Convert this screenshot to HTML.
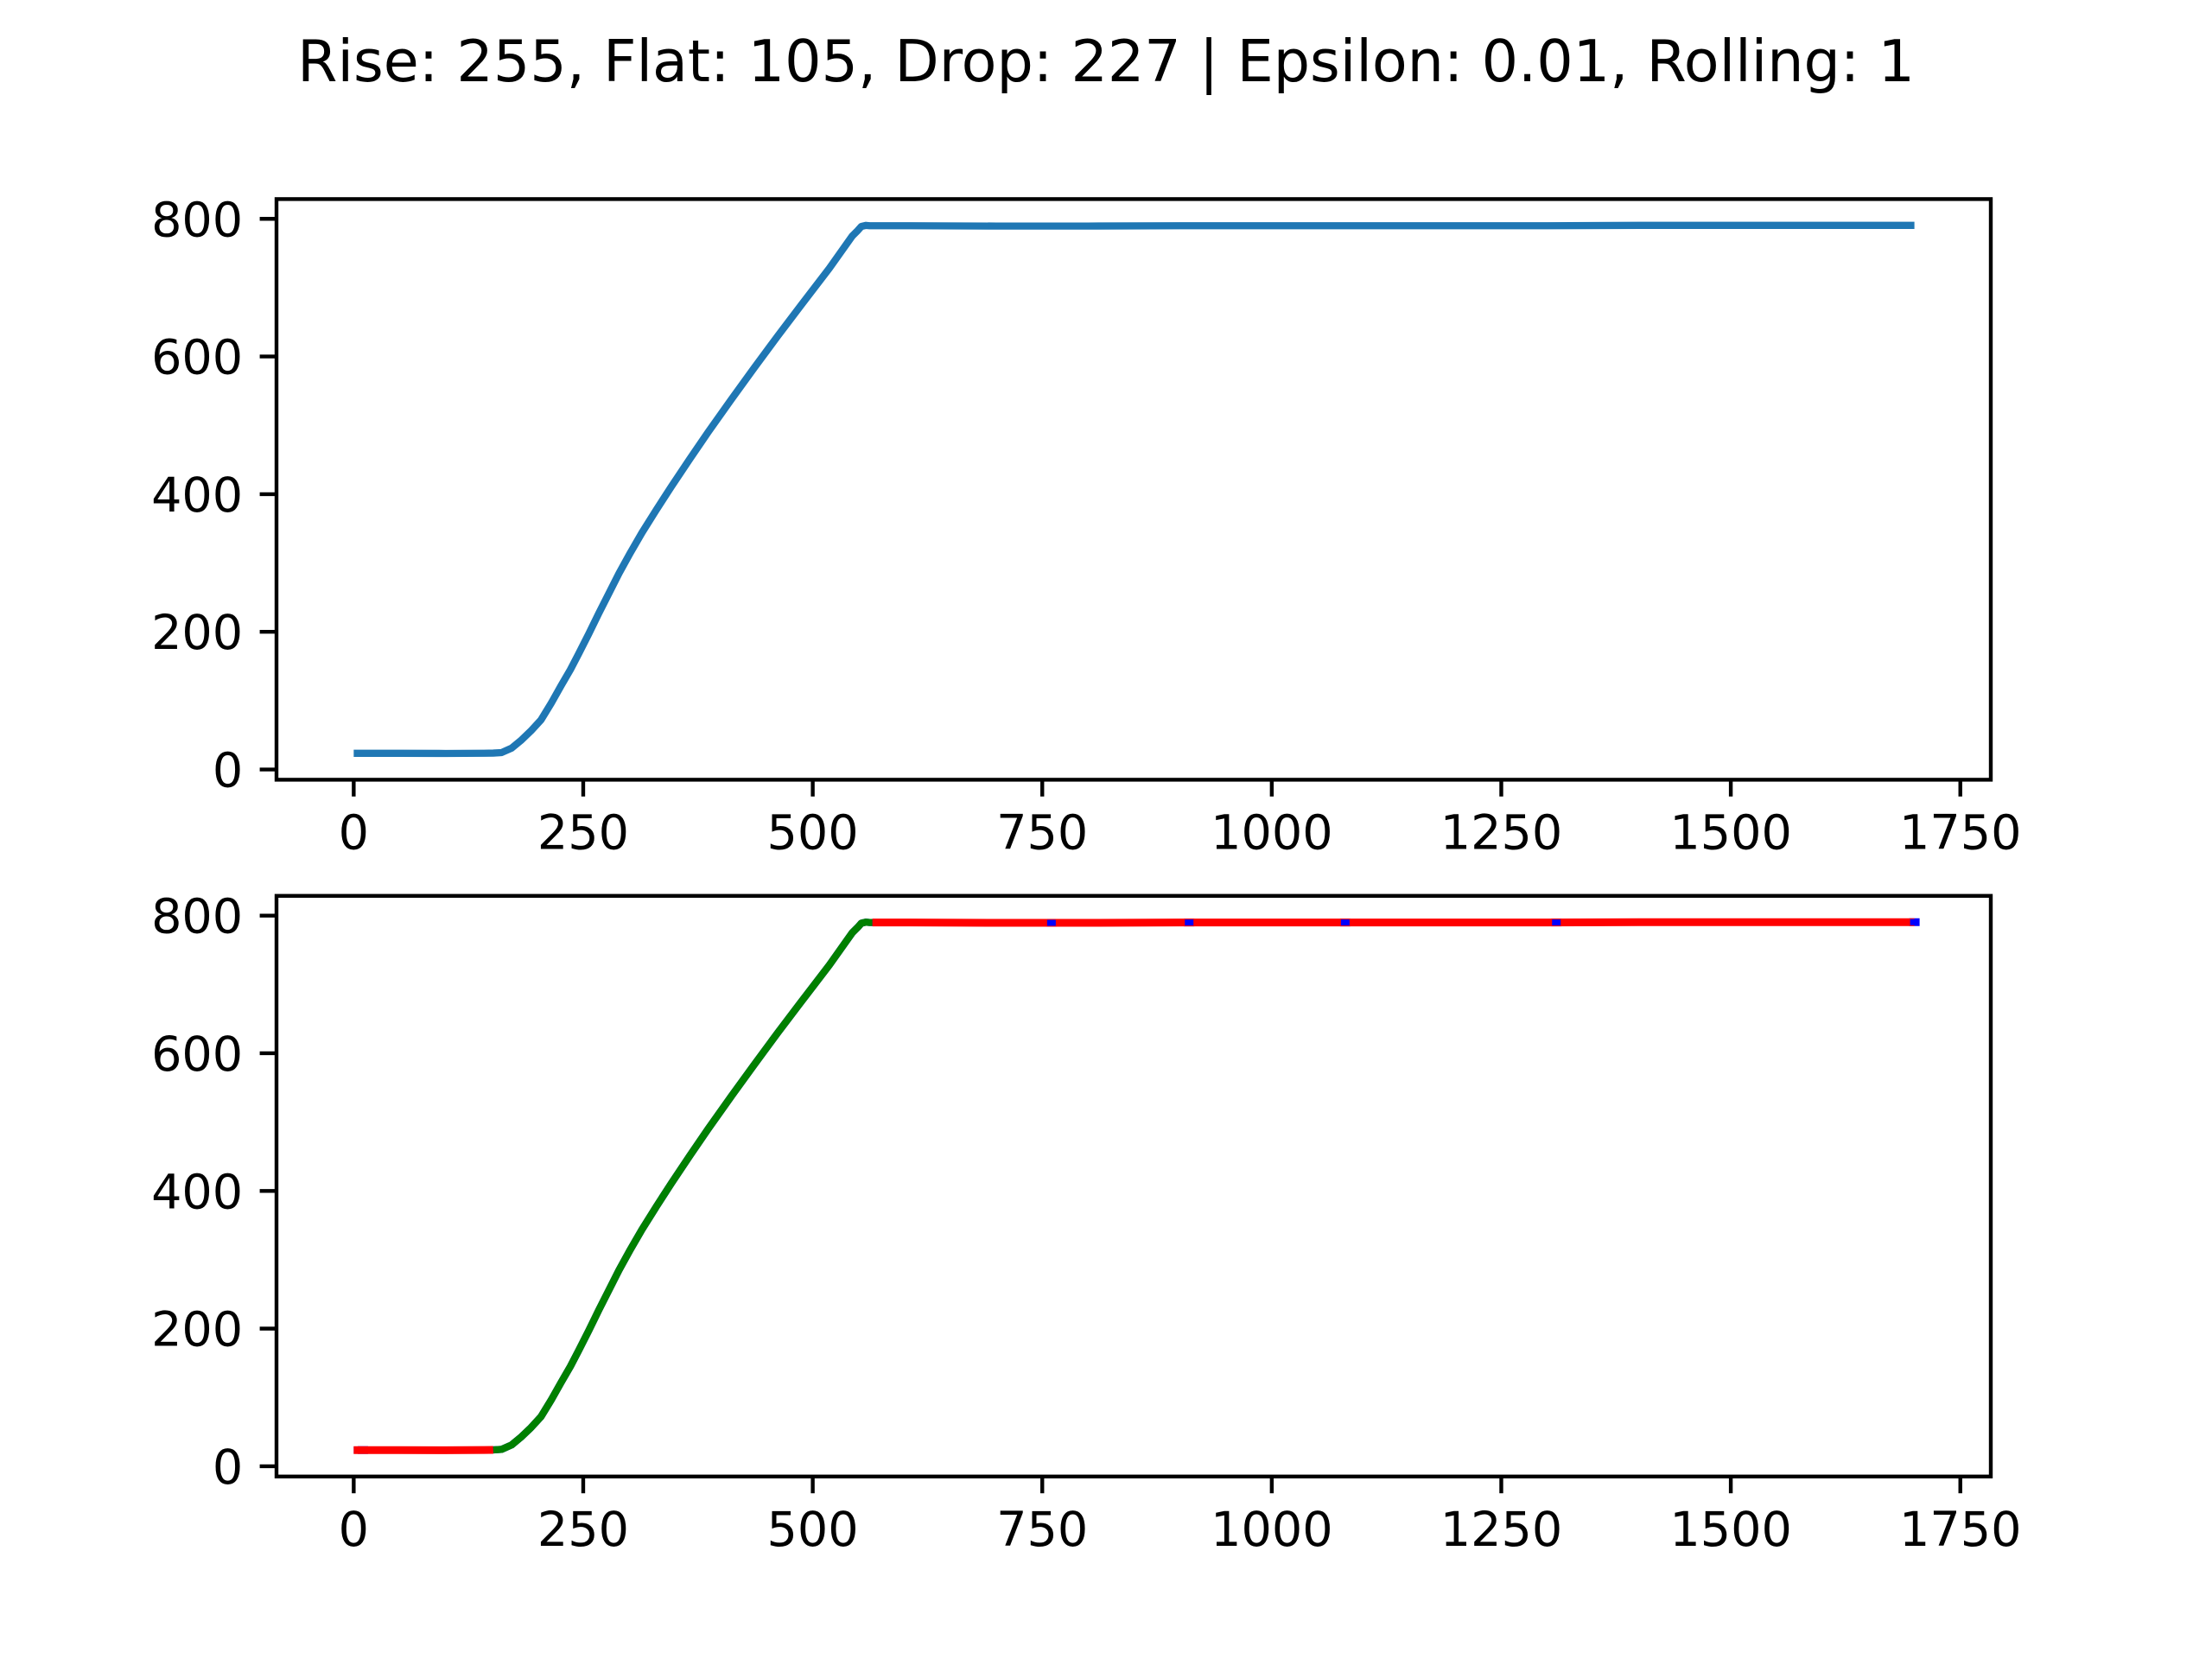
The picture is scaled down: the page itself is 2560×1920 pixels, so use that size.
<!DOCTYPE html>
<html><head><meta charset="utf-8"><style>
html,body{margin:0;padding:0;background:#fff;}
svg{display:block;}
text{font-family:"DejaVu Sans","Liberation Sans",sans-serif;fill:#000;}
</style></head><body>
<svg id="fig" width="2560" height="1920" viewBox="0 0 2560 1920" xmlns="http://www.w3.org/2000/svg">
<rect width="2560" height="1920" fill="#fff"/>
<text x="1280" y="94" font-size="66.7" text-anchor="middle">Rise: 255, Flat: 105, Drop: 227 | Epsilon: 0.01, Rolling: 1</text>
<g id="top"></g>
<g id="bot"></g>
</svg>
<script>
// data
const xs = [0, 50, 100, 142, 152, 161, 172, 182, 193, 204, 215, 226, 236, 245, 256, 267, 278, 289, 301, 314, 330, 346, 366, 386, 411, 436, 462, 487, 518, 543, 549, 553, 558, 562, 606, 700, 800, 900, 1000, 1100, 1200, 1300, 1400, 1500, 1600, 1700];
const ys = [23.5, 23.5, 23.3, 23.6, 23.8, 24.5, 31, 42, 56, 72, 96, 122, 145, 168, 197, 227, 256, 285, 314, 344, 378, 411, 451, 490, 537, 583, 630, 674, 728, 775, 783, 789, 790.5, 790, 790, 789.5, 789.5, 790, 790, 790, 790, 790, 790.5, 790.5, 790.5, 790.5];
const segStartX = [0, 152, 565];
const segEndX = [152, 565, 1700];
const segColors = ['#ff0000', '#008000', '#ff0000'];
const blueMarksX = [10, 760, 910, 1080, 1310, 1700];
const xTicks = [0, 250, 500, 750, 1000, 1250, 1500, 1750];
const yTicks = [0, 200, 400, 600, 800];

const NS = 'http://www.w3.org/2000/svg';
const L = 320, R = 2304, W = R - L, H = 672;
const XMIN = -84.1, XMAX = 1783.2, YMIN = -14.9, YMAX = 828.7;
function sx(v){ return L + (v - XMIN) / (XMAX - XMIN) * W; }
function mk(tag, attrs, parent){ const e = document.createElementNS(NS, tag); for (const k in attrs) e.setAttribute(k, attrs[k]); parent.appendChild(e); return e; }
function interp(x){ for (let i=1;i<xs.length;i++){ if (x<=xs[i]){ const t=(x-xs[i-1])/(xs[i]-xs[i-1]); return ys[i-1]+t*(ys[i]-ys[i-1]); } } return ys[ys.length-1]; }

function drawAxes(g, top){
  const bottom = top + H;
  const sy = v => bottom - (v - YMIN) / (YMAX - YMIN) * H;
  for (const t of xTicks){
    const X = sx(t);
    const tk = mk('line', {x1:X, x2:X, y1:bottom, y2:bottom+19.4, stroke:'#000', 'stroke-width':4.4}, g);
    
    
    const tx = mk('text', {x:X, y:bottom+80, 'font-size':55.6, 'text-anchor':'middle'}, g);
    tx.textContent = t;
    
    
  }
  for (const t of yTicks){
    const Y = sy(t);
    const tk = mk('line', {x1:L-19.4, x2:L, y1:Y, y2:Y, stroke:'#000', 'stroke-width':4.4}, g);
    
    
    const tx = mk('text', {x:L-38.8, y:Y+20, 'font-size':55.6, 'text-anchor':'end'}, g);
    tx.textContent = t;
    
    
  }
  return sy;
}
function spines(g, top){
  const r = mk('rect', {x:L, y:top, width:W, height:H, fill:'none', stroke:'#000', 'stroke-width':4.4}, g);
  
  
}

// top panel
const gt = document.getElementById('top');
const topY = 230.4;
const syT = drawAxes(gt, topY);
const p1 = mk('polyline', {points: xs.map((x,i)=>sx(x)+','+syT(ys[i])).join(' '), fill:'none', stroke:'#1f77b4', 'stroke-width':8.3, 'stroke-linejoin':'round'}, gt);


spines(gt, topY);

// bottom panel
const gb = document.getElementById('bot');
const botY = 1036.8;
const syB = drawAxes(gb, botY);
const under = mk('polyline', {points: xs.map((x,i)=>sx(x)+','+syB(ys[i])).join(' '), fill:'none', stroke:'#0000ff', 'stroke-width':8.3, 'stroke-linejoin':'round'}, gb);


for (const bx of blueMarksX){
  const bm = mk('line', {x1:sx(bx)-6, x2:sx(bx)+6, y1:syB(interp(bx)), y2:syB(interp(bx)), stroke:'#0000ff', 'stroke-width':9}, gb);
  
  
}
for (let s=0; s<segStartX.length; s++){
  const pts = [[segStartX[s], interp(segStartX[s])]];
  for (let i=0;i<xs.length;i++) if (xs[i]>segStartX[s] && xs[i]<segEndX[s]) pts.push([xs[i], ys[i]]);
  pts.push([segEndX[s], interp(segEndX[s])]);
  const pl = mk('polyline', {points: pts.map(p=>sx(p[0])+','+syB(p[1])).join(' '), fill:'none', stroke:segColors[s], 'stroke-width': segColors[s]==='#ff0000'?9:8.3, 'stroke-linejoin':'round'}, gb);
  
  
}
for (const bx of blueMarksX.slice(1)){
  const bm = mk('line', {x1:sx(bx)-5, x2:sx(bx)+5, y1:syB(interp(bx)), y2:syB(interp(bx)), stroke:'#0000ff', 'stroke-width':7}, gb);
  
  
}
spines(gb, botY);
</script>
</body></html>
